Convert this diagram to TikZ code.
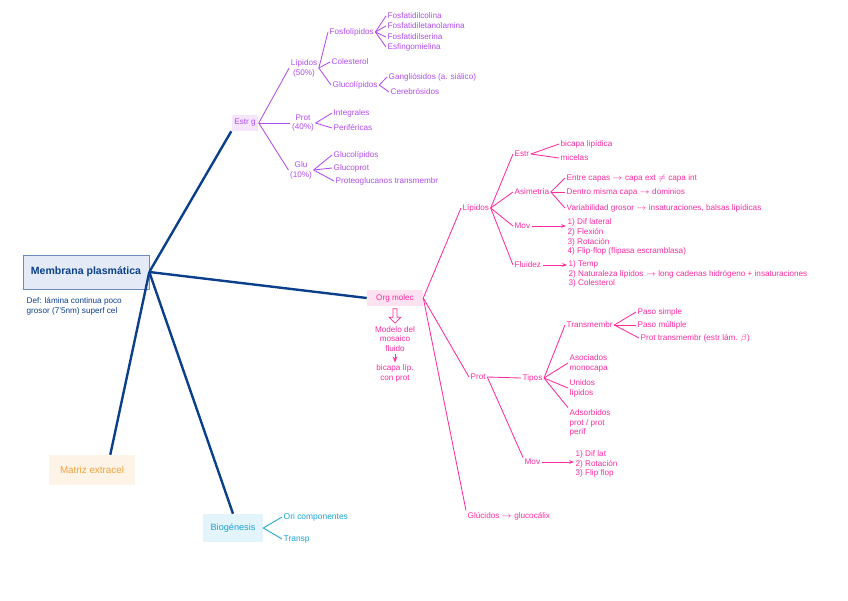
\documentclass[tikz,border=0pt]{standalone}
\usepackage{fontspec}
\setmainfont{Liberation Sans}
\usepackage{xcolor}
\usepackage{tikz}
\usetikzlibrary{arrows.meta,shapes.arrows}
\definecolor{navy}{HTML}{0B3F8C}
\definecolor{memfill}{HTML}{E4EBF6}
\definecolor{purp}{HTML}{B24CF2}
\definecolor{purpfill}{HTML}{F5E6FD}
\definecolor{pink}{HTML}{FF2BA0}
\definecolor{pinkfill}{HTML}{FDE3F1}
\definecolor{orng}{HTML}{F3A33A}
\definecolor{orngfill}{HTML}{FDF3E7}
\definecolor{cyan}{HTML}{1AA3D6}
\definecolor{cyanfill}{HTML}{E3F4FB}
\newcommand{\hw}{\fontsize{5.8}{7}\selectfont}

\begin{document}
\begin{tikzpicture}[x=0.025cm,y=-0.025cm,
  every node/.style={font=\hw,inner sep=1pt},
  pu/.style={text=purp,anchor=west},
  pk/.style={text=pink,anchor=west},
  pl/.style={draw=purp,line width=0.6pt},
  kl/.style={draw=pink,line width=0.6pt},
  bl/.style={draw=navy,line width=1.7pt},
  box/.style={minimum height=0.4cm,inner sep=2pt}
]
  \useasboundingbox (0,0) rectangle (848,600);
  % main topic
  \node[box,draw=navy!60,fill=memfill,text=navy,font=\fontsize{7.5}{9}\selectfont\bfseries,
        minimum width=3.15cm,minimum height=0.85cm] (mem) at (86,272) {Membrana plasmática};
  \node[text=navy,anchor=west,align=left] (def) at (25,306) {Def: lámina continua poco\\grosor (7'5nm) superf cel};
  \node[box,fill=orngfill,text=orng,font=\fontsize{7}{8}\selectfont,minimum width=2.15cm,minimum height=0.75cm] (mat) at (92,470) {Matriz extracel};
  \node[box,fill=cyanfill,text=cyan,font=\fontsize{6.5}{8}\selectfont,minimum width=1.5cm,minimum height=0.7cm] (bio) at (233,528) {Biogénesis};
  \node[text=cyan,anchor=west,font=\fontsize{6}{7}\selectfont] (ori) at (282,517) {Ori componentes};
  \node[text=cyan,anchor=west,font=\fontsize{6}{7}\selectfont] (tra) at (282,539) {Transp};
  \draw[cyan,line width=0.6pt] (ori.west) -- (bio.east) -- (tra.west);

  % estructura general
  \node[box,fill=purpfill,text=purp,minimum width=0.65cm] (estr) at (245,123) {Estr g};
  \node[text=purp,align=center] (lip1) at (304,68) {Lípidos\\(50\%)};
  \node[text=purp,align=center] (prot1) at (303,123) {Prot\\(40\%)};
  \node[text=purp,align=center] (glu) at (301,170) {Glu\\(10\%)};
  \node[pu] (fosf) at (328,32) {Fosfolípidos};
  \node[pu] (fc) at (386,16) {Fosfatidilcolina};
  \node[pu] (fe) at (386,26) {Fosfatidiletanolamina};
  \node[pu] (fs) at (386,37) {Fosfatidilserina};
  \node[pu] (esf) at (386,47) {Esfingomielina};
  \node[pu] (col) at (330,62) {Colesterol};
  \node[pu] (gl1) at (331,85) {Glucolípidos};
  \node[pu] (gang) at (387,77) {Gangliósidos (a. siálico)};
  \node[pu] (cer) at (389,92) {Cerebrósidos};
  \node[pu] (int) at (332,113) {Integrales};
  \node[pu] (per) at (332,128) {Periféricas};
  \node[pu] (g1) at (332,155) {Glucolípidos};
  \node[pu] (g2) at (332,168) {Glucoprot};
  \node[pu] (g3) at (334,181) {Proteoglucanos transmembr};
  \foreach \n in {lip1,prot1,glu} \draw[pl] (estr.east) -- (\n.west);
  \foreach \n in {fosf,col,gl1} \draw[pl] (lip1.east) -- (\n.west);
  \foreach \n in {fc,fe,fs,esf} \draw[pl] (fosf.east) -- (\n.west);
  \foreach \n in {gang,cer} \draw[pl] (gl1.east) -- (\n.west);
  \foreach \n in {int,per} \draw[pl] (prot1.east) -- (\n.west);
  \foreach \n in {g1,g2,g3} \draw[pl] (glu.east) -- (\n.west);

  % organizacion molecular
  \node[box,fill=pinkfill,text=pink,minimum width=1.4cm] (org) at (395,298) {Org molec};
  \node[single arrow,draw=pink,line width=0.5pt,shape border rotate=270,minimum height=3.6mm,
        minimum width=3mm,single arrow head extend=0.6mm,inner sep=0.6pt] (dar) at (395,315) {};
  \node[text=pink,align=center] (mod) at (395,339) {Modelo del\\mosaico\\fluido};
  \node[text=pink,align=center] (bic) at (395,373) {bicapa líp.\\con prot};
  \draw[kl,-{Stealth[length=1.5mm]}] (mod.south) -- (bic.north);

  \node[pk] (lip2) at (461,208) {Lípidos};
  \node[pk] (estr2) at (513,154) {Estr};
  \node[pk] (bl) at (559,144) {bicapa lipídica};
  \node[pk] (mic) at (559,158) {micelas};
  \node[pk] (asi) at (513,192) {Asimetría};
  \node[pk] (a1) at (565,178) {Entre capas $\rightarrow$ capa ext $\neq$ capa int};
  \node[pk] (a2) at (565,192) {Dentro misma capa $\rightarrow$ dominios};
  \node[pk] (a3) at (565,208) {Variabilidad grosor $\rightarrow$ insaturaciones, balsas lipídicas};
  \node[pk] (mov1) at (513,226) {Mov};
  \node[pk,align=left] (ml) at (566,237) {1) Dif lateral\\2) Flexión\\3) Rotación\\4) Flip-flop (flipasa escramblasa)};
  \node[pk] (flu) at (513,265) {Fluidez};
  \node[pk,align=left] (fl) at (567,274) {1) Temp\\2) Naturaleza lípidos $\rightarrow$ long cadenas hidrógeno + insaturaciones\\3) Colesterol};
  \foreach \n in {estr2,asi,mov1,flu} \draw[kl] (lip2.east) -- (\n.west);
  \foreach \n in {bl,mic} \draw[kl] (estr2.east) -- (\n.west);
  \foreach \n in {a1,a2,a3} \draw[kl] (asi.east) -- (\n.west);
  \draw[kl,-{Stealth[length=1.2mm]}] (mov1.east) -- (mov1.east -| ml.west);
  \draw[kl,-{Stealth[length=1.2mm]}] (flu.east) -- (flu.east -| fl.west);

  \node[pk] (prot2) at (469,377) {Prot};
  \node[pk] (tip) at (521,378) {Tipos};
  \node[pk] (tm) at (565,325) {Transmembr};
  \node[pk] (ps) at (636,312) {Paso simple};
  \node[pk] (pm) at (636,325) {Paso múltiple};
  \node[pk] (pt) at (639,338) {Prot transmembr (estr lám. $\beta$)};
  \node[pk,align=left] (aso) at (568,363) {Asociados\\monocapa};
  \node[pk,align=left] (uni) at (568,388) {Unidos\\lípidos};
  \node[pk,align=left] (ads) at (568,423) {Adsorbidos\\prot / prot\\perif};
  \node[pk] (mov2) at (523,462) {Mov};
  \node[pk,align=left] (mv) at (574,464) {1) Dif lat\\2) Rotación\\3) Flip flop};
  \node[pk] (glc) at (466,516) {Glúcidos $\rightarrow$ glucocálix};
  \draw[kl] (prot2.east) -- (tip.west);
  \draw[kl] (prot2.east) -- (mov2.north west);
  \foreach \n in {tm,aso,uni} \draw[kl] (tip.east) -- (\n.west);
  \draw[kl] (tip.east) -- (ads.north west);
  \foreach \n in {ps,pm,pt} \draw[kl] (tm.east) -- (\n.west);
  \draw[kl,-{Stealth[length=1.2mm]}] (mov2.east) -- (mov2.east -| mv.west);
  \draw[kl] (org.east) -- (lip2.west);
  \draw[kl] (org.east) -- (prot2.west);
  \draw[kl] (org.east) -- (glc.north west);

  % ramas principales
  \draw[bl] (mem.east) -- (estr.south west);
  \draw[bl] (mem.east) -- (org.west);
  \draw[bl] (mem.east) -- ([xshift=13]mat.north);
  \draw[bl] (mem.east) -- (bio.north);
\end{tikzpicture}
\end{document}
